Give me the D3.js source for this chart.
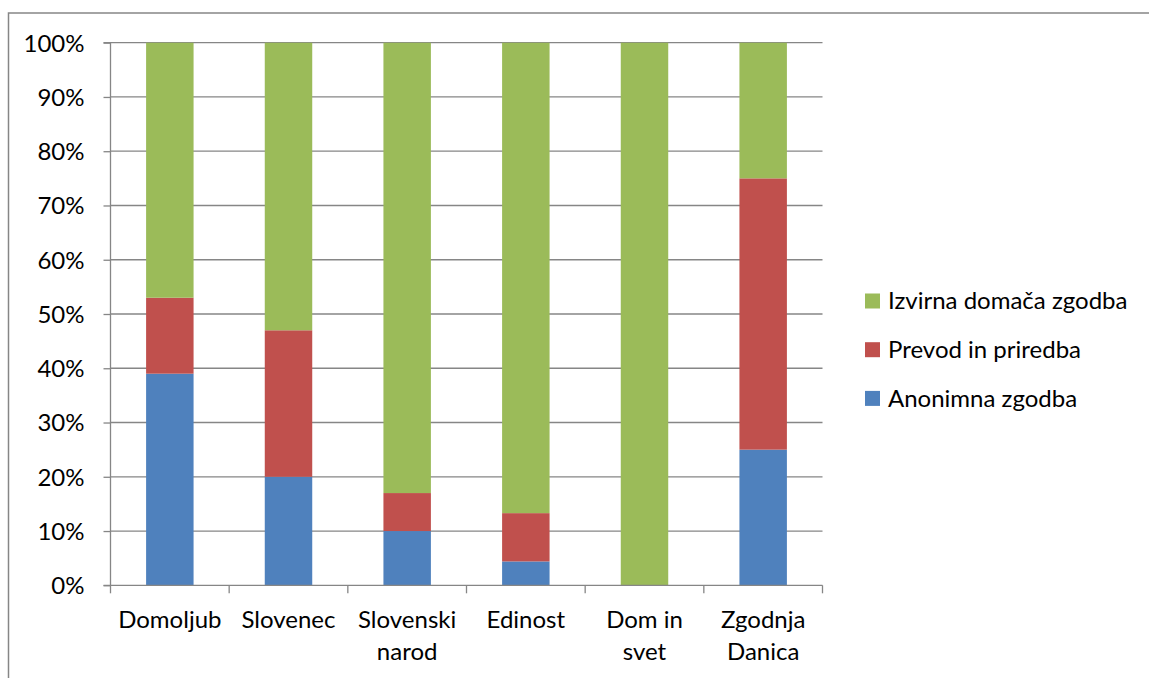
<!DOCTYPE html>
<html><head><meta charset="utf-8">
<script src="https://cdn.jsdelivr.net/npm/d3@7"></script>
<style>body{margin:0;background:#fff;} svg{display:block;} text{font-family:Lato, "Open Sans", sans-serif;fill:#000;}</style>
</head><body>
<svg id="chart" width="1149" height="678"></svg>
<script>
const categories = ["Domoljub","Slovenec","Slovenski narod","Edinost","Dom in svet","Zgodnja Danica"];
const categoryLines = [["Domoljub"],["Slovenec"],["Slovenski","narod"],["Edinost"],["Dom in","svet"],["Zgodnja","Danica"]];
const seriesNames = ["Anonimna zgodba","Prevod in priredba","Izvirna domača zgodba"];
const anonimna = [39, 20, 10, 4.4, 0, 25];
const prevod   = [14, 27, 7, 8.9, 0, 50];
const izvirna  = [47, 53, 83, 86.7, 100, 25];
const yTicks = [0,10,20,30,40,50,60,70,80,90,100];
const colors = ["#4F81BD","#C0504D","#9BBB59"];
const FS = 24;

const svg = d3.select("#chart");
const m = {left:110.5, right:822.5, top:42.7, bottom:585.3};

// outer border
svg.append("rect").attr("x",8.5).attr("y",13).attr("width",1200).attr("height",700)
  .attr("fill","none").attr("stroke","#868686").attr("stroke-width",1.5);

const x = d3.scaleBand().domain(categories).range([m.left,m.right]).paddingInner(0.6).paddingOuter(0.3);
const xb = d3.scaleBand().domain(categories).range([m.left,m.right]);
const y = d3.scaleLinear().domain([0,100]).range([m.bottom,m.top]);

// gridlines
svg.append("g").selectAll("line").data(yTicks.filter(d=>d>0)).join("line")
  .attr("x1",m.left).attr("x2",m.right).attr("y1",d=>y(d)).attr("y2",d=>y(d))
  .attr("stroke","#868686").attr("stroke-width",1.3);

// stacked data
const rows = categories.map((c,i)=>({cat:c, a:anonimna[i], p:prevod[i], z:izvirna[i]}));
const stack = d3.stack().keys(["a","p","z"])(rows);
svg.append("g").selectAll("g").data(stack).join("g").attr("fill",(d,i)=>colors[i])
  .selectAll("rect").data(d=>d).join("rect")
  .attr("x",d=>x(d.data.cat)).attr("width",x.bandwidth())
  .attr("y",d=>y(d[1])).attr("height",d=>Math.max(0,y(d[0])-y(d[1])));

// y axis
const yAxis = d3.axisLeft(y).tickValues(yTicks).tickFormat(d=>d+"%").tickSize(7).tickPadding(19);
const gy = svg.append("g").attr("transform",`translate(${m.left},0)`).call(yAxis);
gy.select(".domain").attr("stroke","#868686").attr("stroke-width",1.3).attr("d",`M-7,${m.top}H0V${m.bottom}`);
gy.selectAll(".tick line").attr("stroke","#868686").attr("stroke-width",1.3);
gy.selectAll(".tick text").attr("font-size",FS).attr("font-family","Lato").attr("fill","#000").attr("dy","0.35em");

// x axis
svg.append("line").attr("x1",m.left-7).attr("x2",m.right).attr("y1",m.bottom).attr("y2",m.bottom)
  .attr("stroke","#868686").attr("stroke-width",1.3);
const bounds = categories.map(c=>xb(c)).concat([m.right]);
svg.append("g").selectAll("line").data(bounds).join("line")
  .attr("x1",d=>d).attr("x2",d=>d).attr("y1",m.bottom).attr("y2",m.bottom+8)
  .attr("stroke","#868686").attr("stroke-width",1.3);
const lab = svg.append("g").selectAll("text").data(categories).join("text")
  .attr("text-anchor","middle").attr("font-size",FS)
  .attr("x",d=>xb(d)+xb.bandwidth()/2).attr("y",628);
lab.selectAll("tspan").data((d,i)=>categoryLines[i]).join("tspan")
  .attr("x",function(){return d3.select(this.parentNode).attr("x");})
  .attr("dy",(d,i)=>i===0?0:32).text(d=>d);

// legend
const legendOrder = [2,1,0];
const lg = svg.append("g").selectAll("g").data(legendOrder).join("g")
  .attr("transform",(d,i)=>`translate(865,${301+i*48.7})`);
lg.append("rect").attr("x",0).attr("y",-7.5).attr("width",15).attr("height",15).attr("fill",d=>colors[d]);
lg.append("text").attr("x",23).attr("y",0).attr("dy","0.35em").attr("font-size",FS).text(d=>seriesNames[d]);
</script>
</body></html>
